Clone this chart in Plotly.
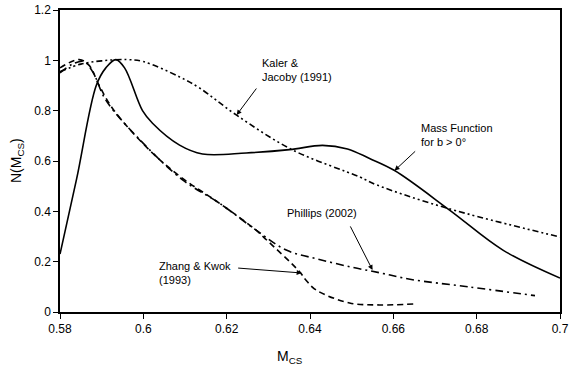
import plotly.graph_objects as go

# Mass Function for b > 0 (solid)
mass_x = [0.58, 0.584, 0.5887, 0.591, 0.5934, 0.5955, 0.5998, 0.6022, 0.6087, 0.6142,
          0.6247, 0.6351, 0.643, 0.649, 0.6543, 0.6603, 0.6735, 0.6863, 0.70]
mass_y = [0.23, 0.53, 0.90, 0.97, 1.003, 0.97, 0.80, 0.75, 0.663, 0.628,
          0.632, 0.645, 0.662, 0.648, 0.61, 0.562, 0.405, 0.246, 0.135]

# Kaler & Jacoby (1991) (dash-dot-dot)
kaler_x = [0.58, 0.585, 0.59, 0.596, 0.60, 0.6087, 0.6135, 0.6223, 0.6358, 0.652,
           0.656, 0.6728, 0.70]
kaler_y = [0.955, 0.985, 0.998, 1.003, 0.995, 0.934, 0.89, 0.783, 0.644, 0.536,
           0.505, 0.413, 0.298]

# Phillips (2002) (dash-dot)
phil_x = [0.58, 0.583, 0.5858, 0.588, 0.591, 0.60, 0.6095, 0.6183, 0.627, 0.6343,
          0.642, 0.65, 0.657, 0.664, 0.678, 0.694]
phil_y = [0.95, 0.985, 0.995, 0.95, 0.842, 0.67, 0.524, 0.432, 0.326, 0.246,
          0.21, 0.178, 0.155, 0.13, 0.10, 0.065]

# Zhang & Kwok (1993) (dashed)
zk_x = [0.58, 0.5846, 0.587, 0.5894, 0.593, 0.6023, 0.6095, 0.6183, 0.627, 0.6296,
        0.6375, 0.639, 0.6415, 0.6495, 0.6567, 0.665]
zk_y = [0.97, 1.003, 0.98, 0.90, 0.80, 0.63, 0.53, 0.432, 0.326, 0.286,
        0.16, 0.127, 0.087, 0.036, 0.028, 0.032]

x_ticks = [0.58, 0.60, 0.62, 0.64, 0.66, 0.68, 0.70]
x_tick_text = ["0.58", "0.6", "0.62", "0.64", "0.66", "0.68", "0.7"]
y_ticks = [0, 0.2, 0.4, 0.6, 0.8, 1.0, 1.2]
y_tick_text = ["0", "0.2", "0.4", "0.6", "0.8", "1", "1.2"]

FONT = "Liberation Sans, Arial, sans-serif"

fig = go.Figure()
fig.add_trace(go.Scatter(x=mass_x, y=mass_y, mode="lines", line_shape="spline",
                         line=dict(color="black", width=1.6)))
fig.add_trace(go.Scatter(x=kaler_x, y=kaler_y, mode="lines", line_shape="spline",
                         line=dict(color="black", width=1.6, dash="6px,3px,2px,3px,2px,3px")))
fig.add_trace(go.Scatter(x=phil_x, y=phil_y, mode="lines", line_shape="spline",
                         line=dict(color="black", width=1.6, dash="8px,4px,2px,4px")))
fig.add_trace(go.Scatter(x=zk_x, y=zk_y, mode="lines", line_shape="spline",
                         line=dict(color="black", width=1.6, dash="6px,4px")))

annots = []
labels = [
    ("Kaler &amp;<br>Jacoby (1991)", 0.6279, 0.961),
    ("Mass Function<br>for b &gt; 0°", 0.6661, 0.703),
    ("Phillips (2002)", 0.6339, 0.393),
    ("Zhang &amp; Kwok<br>(1993)", 0.6033, 0.155),
]
for t, x, y in labels:
    annots.append(dict(x=x, y=y, xref="x", yref="y", text=t,
                       showarrow=False, xanchor="left", yanchor="middle", align="left",
                       font=dict(family=FONT, size=11, color="black")))
# arrows (tip, tail)
arrows = [
    (0.6224, 0.783, 0.6274, 0.894),
    (0.6603, 0.562, 0.6656, 0.644),
    (0.6550, 0.167, 0.6495, 0.346),
    (0.6380, 0.155, 0.6224, 0.175),
]
for x, y, ax, ay in arrows:
    annots.append(dict(x=x, y=y, ax=ax, ay=ay, xref="x", yref="y", axref="x", ayref="y",
                       text="", showarrow=True, arrowhead=2, arrowsize=1, arrowwidth=1,
                       arrowcolor="black"))
# axis titles
annots.append(dict(x=0.46, y=-0.113, xref="paper", yref="paper", text="M<sub>CS</sub>",
                   showarrow=False, xanchor="center", yanchor="top",
                   font=dict(family=FONT, size=14, color="black")))
annots.append(dict(x=-0.086, y=0.50, xref="paper", yref="paper", text="N(M<sub>CS</sub>)",
                   showarrow=False, xanchor="center", yanchor="middle", textangle=-90,
                   font=dict(family=FONT, size=14, color="black")))

fig.update_layout(
    width=571, height=365,
    margin=dict(l=60, r=11, t=10, b=53, autoexpand=False),
    paper_bgcolor="white", plot_bgcolor="white",
    showlegend=False,
    annotations=annots,
    font=dict(family=FONT, size=12, color="black"),
)
fig.update_xaxes(range=[0.58, 0.70], tickvals=x_ticks, ticktext=x_tick_text,
                 showgrid=False, zeroline=False, showline=True, linecolor="black",
                 linewidth=1.5, mirror=True, ticks="outside", ticklen=5, tickcolor="black",
                 automargin=False,
                 tickfont=dict(family=FONT, size=12, color="black"))
fig.update_yaxes(range=[0, 1.2], tickvals=y_ticks, ticktext=y_tick_text,
                 showgrid=False, zeroline=False, showline=True, linecolor="black",
                 linewidth=1.5, mirror=True, ticks="outside", ticklen=5, tickcolor="black",
                 automargin=False,
                 tickfont=dict(family=FONT, size=12, color="black"))

fig.write_html("out.html")
